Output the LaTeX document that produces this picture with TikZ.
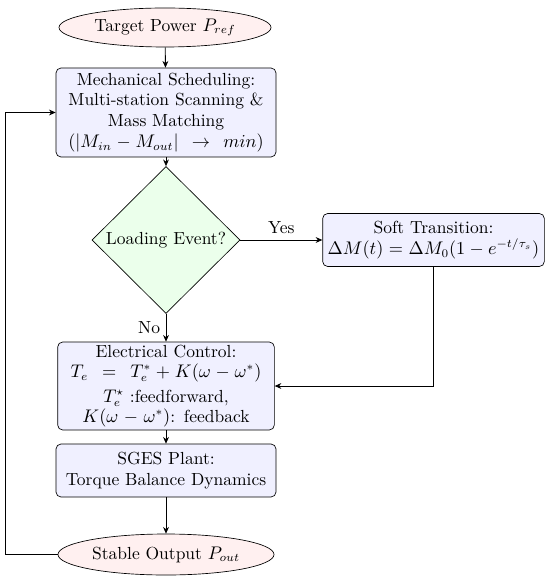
\documentclass[tikz,border=0pt]{standalone}
\usetikzlibrary{shapes.geometric,arrows.meta}
\begin{document}
\begin{tikzpicture}[x=0.6pt,y=-0.6pt,
  font=\fontsize{10.5}{12.5}\selectfont,
  term/.style={ellipse,draw,fill=red!6,inner sep=0pt},
  proc/.style={rectangle,rounded corners=3pt,draw,fill=blue!6,inner sep=1pt,align=center,text width=130pt},
  dec/.style={diamond,draw,fill=green!8,inner sep=0pt,aspect=1},
  arr/.style={-{Stealth[length=4pt,width=3.5pt]},line width=0.5pt},
  ln/.style={line width=0.5pt}]
\useasboundingbox (0,0) rectangle (550,584);
\node[term,minimum width=127.2pt,minimum height=23.4pt] (start) at (165,27.5) {Target Power $P_{ref}$};
\node[proc,minimum height=53.4pt] (mech) at (166,112.5) {Mechanical Scheduling:\\ Multi-station Scanning \&\\ Mass Matching\\ $(|M_{in}-M_{out}|\;\rightarrow\;min)$};
\node[dec,minimum width=88.8pt,minimum height=88.2pt] (dec) at (166,240) {Loading Event?};
\node[proc,text width=131pt,minimum height=31.8pt] (soft) at (433.5,240) {Soft Transition:\\ $\Delta M(t)=\Delta M_0(1-e^{-t/\tau_s})$};
\node[proc,inner sep=0pt,minimum height=52.8pt,font=\fontsize{10.5}{12}\selectfont] (elec) at (166,386) {Electrical Control:\\ $T_e\;=\;T_e^{*}+K(\omega-\omega^{*})$\\[3pt] $T_e^{\star}$ :feedforward,\\ $K(\omega-\omega^{*})$: feedback};
\node[proc,minimum height=31.8pt] (sges) at (166,470.5) {SGES Plant:\\ Torque Balance Dynamics};
\node[term,minimum width=129.6pt,minimum height=24.6pt] (out) at (166,554.5) {Stable Output $P_{out}$};
\coordinate (fl) at (5,554.5);
\coordinate (sc) at (433.5,386);
\draw[arr] (start) -- (mech);
\draw[arr] (mech) -- (dec);
\draw[arr] (dec.east) -- node[above] {Yes} (soft.west);
\draw[arr] (dec.south) -- node[left] {No} (elec.north);
\draw[arr] (soft.south) -- (sc) -- (elec.east);
\draw[arr] (elec) -- (sges);
\draw[arr] (sges) -- (out);
\draw[arr] (out.west) -- (fl) |- (mech.west);
\end{tikzpicture}
\end{document}
